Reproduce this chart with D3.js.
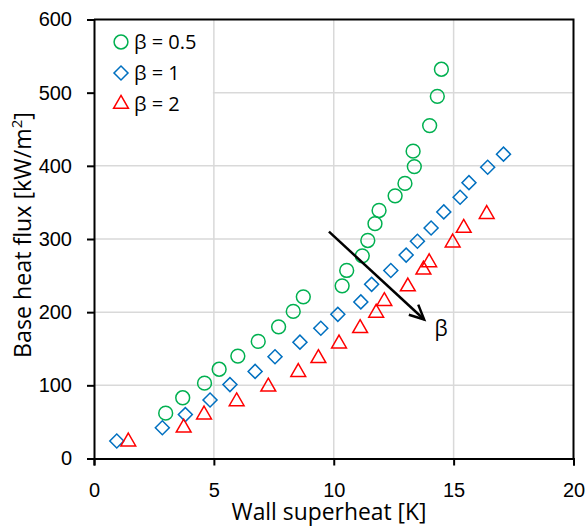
<!DOCTYPE html>
<html>
<head>
<meta charset="utf-8">
<script src="https://cdn.jsdelivr.net/npm/d3@7"></script>
<style>
  html, body { margin: 0; padding: 0; background: #fff; }
  .chart-svg { font-family: "Open Sans", Arial, sans-serif; }
  .tick-label { font-size: 20px; fill: #000; }
  .axis-title { font-size: 23px; fill: #000; }
  .beta-label { font-size: 21px; fill: #000; }
  .legend-label { font-size: 20px; fill: #000; }
</style>
</head>
<body>
<svg id="chart"></svg>
<script>
// Wall superheat [K] / base heat flux [kW/m2]
const beta05X = [2.99, 3.70, 4.61, 5.22, 6.0, 6.85, 7.7, 8.31, 8.73, 10.35, 10.54, 11.19, 11.42, 11.72, 11.89, 12.56, 12.97, 13.36, 13.31, 14.0, 14.32, 14.49];
const beta05Y = [62, 83, 103, 122, 140, 160, 180, 201, 221, 236, 257, 277, 298, 321, 339, 359, 376, 399, 420, 455, 495, 532];

const beta1X = [0.95, 2.85, 3.81, 4.84, 5.67, 6.72, 7.55, 8.59, 9.46, 10.17, 11.13, 11.58, 12.38, 13.02, 13.49, 14.06, 14.59, 15.27, 15.64, 16.42, 17.08];
const beta1Y = [24, 42, 60, 80, 101, 119, 139, 159, 178, 197, 214, 238, 257, 278, 297, 315, 337, 357, 377, 398, 416];

const beta2X = [1.43, 3.74, 4.59, 5.95, 7.27, 8.52, 9.36, 10.22, 11.1, 11.77, 12.11, 13.09, 13.74, 13.98, 14.96, 15.42, 16.38];
const beta2Y = [23, 42, 60, 78, 98, 118, 137, 157, 178, 199, 215, 235, 258, 268, 295, 315, 334];

const xTicks = [0, 5, 10, 15, 20];
const yTicks = [0, 100, 200, 300, 400, 500, 600];
const seriesNames = ['β = 0.5', 'β = 1', 'β = 2'];

// arrow pointing towards increasing beta
const arrowX = [9.8, 13.77];
const arrowY = [310, 190];

const width = 585;
const height = 528;

const svg = d3.select('#chart')
  .attr('width', width)
  .attr('height', height)
  .attr('class', 'chart-svg');

const x = d3.scaleLinear().domain([0, 20]).range([94, 573.5]);
const y = d3.scaleLinear().domain([0, 600]).range([458.5, 19.5]);

// squeeze a text element to a given width (reference uses a narrow font)
function fitWidth(sel, target, cx, cy, rot) {
  const w = sel.node().getComputedTextLength();
  sel.attr('transform', `translate(${cx},${cy}) rotate(${rot}) scale(${target / w},1)`);
}

// grid
svg.append('g')
  .selectAll('line')
  .data(xTicks.slice(1, -1))
  .enter().append('line')
  .attr('x1', d => x(d)).attr('x2', d => x(d))
  .attr('y1', y(0)).attr('y2', y(600))
  .attr('stroke', '#d9d9d9').attr('stroke-width', 1.5);

svg.append('g')
  .selectAll('line')
  .data(yTicks.slice(1, -1))
  .enter().append('line')
  .attr('x1', x(0)).attr('x2', x(20))
  .attr('y1', d => y(d)).attr('y2', d => y(d))
  .attr('stroke', '#d9d9d9').attr('stroke-width', 1.5);

// legend background hides the grid behind it
svg.append('rect')
  .attr('x', x(0) + 1).attr('y', y(600) + 1)
  .attr('width', x(5) - x(0) - 2).attr('height', 115)
  .attr('fill', '#fff');

// axes
const xAxis = svg.append('g')
  .attr('transform', `translate(0,${y(0)})`)
  .call(d3.axisBottom(x).tickValues(xTicks).tickSize(7).tickPadding(17));
const yAxis = svg.append('g')
  .attr('transform', `translate(${x(0)},0)`)
  .call(d3.axisLeft(y).tickValues(yTicks).tickSize(7).tickPadding(15));

[xAxis, yAxis].forEach(a => {
  a.select('.domain').attr('stroke', '#000').attr('stroke-width', 2);
  a.selectAll('.tick line').attr('stroke', '#000').attr('stroke-width', 2);
  a.selectAll('.tick text').attr('class', 'tick-label').attr('font-family', null).attr('font-size', null);
});

// top and right frame
svg.append('path')
  .attr('d', `M${x(0)},${y(600)}H${x(20)}V${y(0)}`)
  .attr('fill', 'none').attr('stroke', '#000').attr('stroke-width', 2);

// markers
const circle = d3.symbol().type(d3.symbolCircle).size(150);
const square = d3.symbol().type(d3.symbolSquare).size(98);
const triangle = d3.symbol().type(d3.symbolTriangle).size(95);

const series = [
  { xs: beta05X, ys: beta05Y, color: '#00b050', sym: circle, rot: 0 },
  { xs: beta1X, ys: beta1Y, color: '#0070c0', sym: square, rot: 45 },
  { xs: beta2X, ys: beta2Y, color: '#ff0000', sym: triangle, rot: 0 }
];

series.forEach(s => {
  svg.append('g')
    .selectAll('path')
    .data(s.xs.map((v, i) => [v, s.ys[i]]))
    .enter().append('path')
    .attr('d', s.sym())
    .attr('transform', d => `translate(${x(d[0])},${y(d[1])}) rotate(${s.rot})`)
    .attr('fill', 'none')
    .attr('stroke', s.color)
    .attr('stroke-width', 1.5);
});

// legend
const legend = svg.append('g');
series.forEach((s, i) => {
  const ly = 42 + i * 31;
  legend.append('path')
    .attr('d', s.sym())
    .attr('transform', `translate(121,${ly}) rotate(${s.rot})`)
    .attr('fill', 'none').attr('stroke', s.color).attr('stroke-width', 1.5);
  legend.append('text')
    .attr('class', 'legend-label')
    .attr('x', 134).attr('y', ly)
    .attr('dy', '0.35em')
    .text(seriesNames[i]);
});

// arrow with open head
const x0 = x(arrowX[0]), y0 = y(arrowY[0]);
const x1 = x(arrowX[1]), y1 = y(arrowY[1]);
const ang = Math.atan2(y1 - y0, x1 - x0);
const head = 16, spread = Math.PI / 7;
svg.append('line')
  .attr('x1', x0).attr('y1', y0).attr('x2', x1).attr('y2', y1)
  .attr('stroke', '#000').attr('stroke-width', 2.5);
svg.append('path')
  .attr('d', `M${x1 - head * Math.cos(ang - spread)},${y1 - head * Math.sin(ang - spread)}L${x1},${y1}L${x1 - head * Math.cos(ang + spread)},${y1 - head * Math.sin(ang + spread)}`)
  .attr('fill', 'none').attr('stroke', '#000').attr('stroke-width', 2.5);
svg.append('text')
  .attr('class', 'beta-label')
  .attr('x', x1 + 17).attr('y', y1 + 9)
  .attr('text-anchor', 'middle').attr('dy', '0.35em')
  .text('β');

// axis titles
const xt = svg.append('text')
  .attr('class', 'axis-title')
  .attr('text-anchor', 'middle')
  .text('Wall superheat [K]');
fitWidth(xt, 195, 329, 520, 0);

const yt = svg.append('text')
  .attr('class', 'axis-title')
  .attr('text-anchor', 'middle');
yt.append('tspan').text('Base heat flux [kW/m');
yt.append('tspan').attr('font-size', '15px').attr('dy', '-9').text('2');
yt.append('tspan').attr('dy', '9').text(']');
fitWidth(yt, 246, 31, 235, -90);
</script>
</body>
</html>
